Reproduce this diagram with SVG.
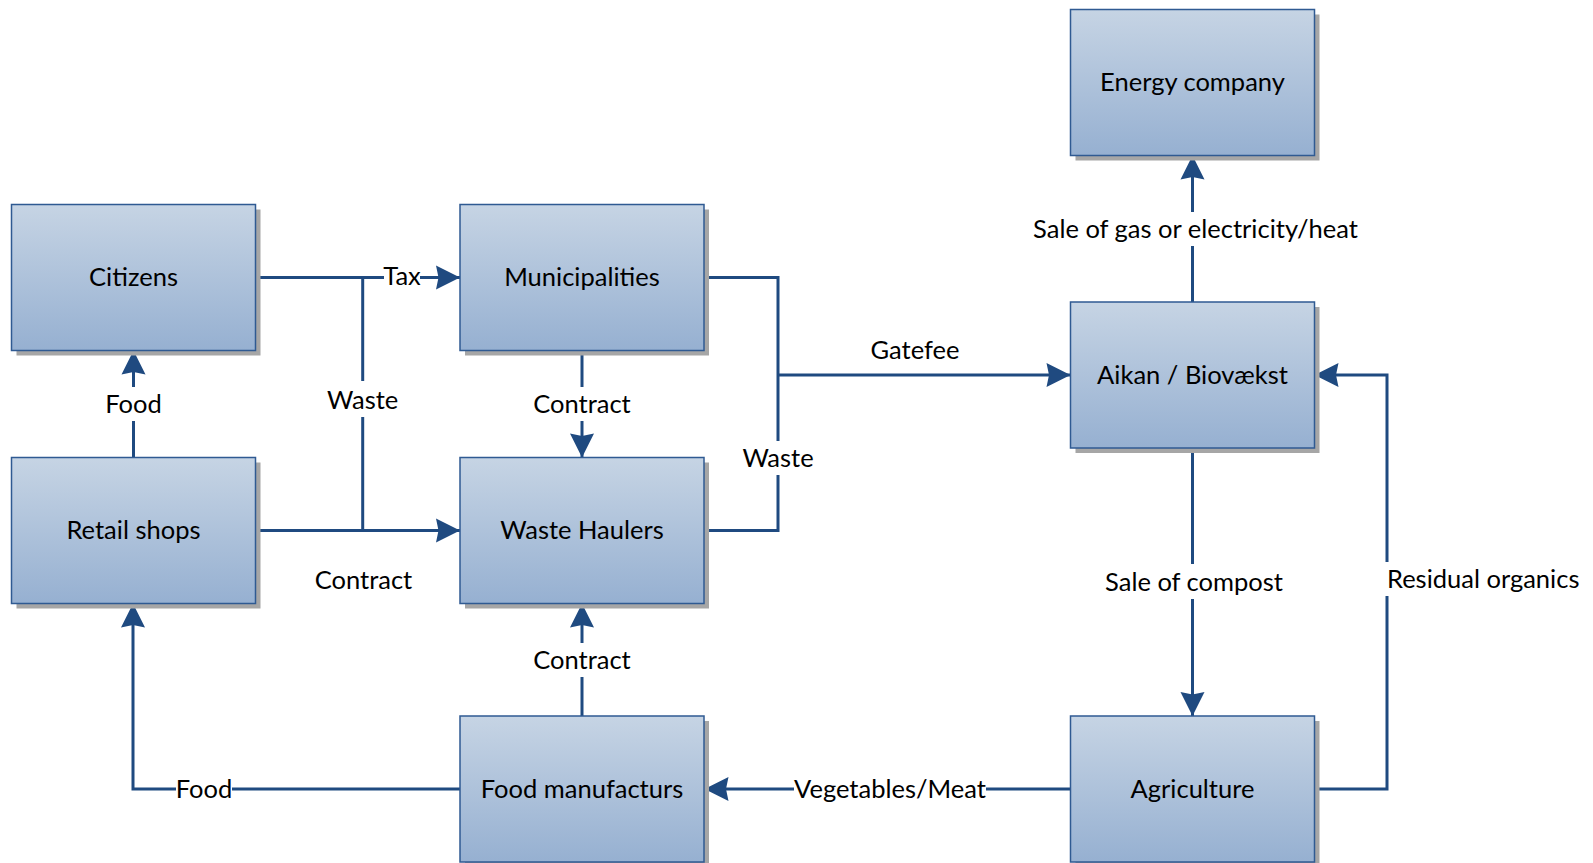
<svg xmlns="http://www.w3.org/2000/svg" width="1593" height="863" viewBox="0 0 1593 863">
<defs>
<linearGradient id="g" x1="0" y1="0" x2="0" y2="1">
<stop offset="0" stop-color="#C6D4E4"/>
<stop offset="1" stop-color="#96B0D1"/>
</linearGradient>
<marker id="arr" markerUnits="userSpaceOnUse" markerWidth="28" markerHeight="28" viewBox="-26 -14 28 28" refX="0" refY="0" orient="auto">
<path d="M0,0 L-24,-12 L-21.5,0 L-24,12 Z" fill="#1F4A80"/>
</marker>
<style>
.box{fill:url(#g);stroke:#2F5A92;stroke-width:1.5}
.sh{fill:#A6A6A6}
.t{font-family:Lato,"Liberation Sans",sans-serif;font-size:25.5px;fill:#000;text-anchor:middle}
.ln{fill:none;stroke:#1F4A80;stroke-width:3}
.bg{fill:#fff}
</style>
</defs>
<rect width="1593" height="863" fill="#fff"/>
<g id="connectors">
<path class="ln" d="M255.5,277.5 H460" marker-end="url(#arr)"/>
<path class="ln" d="M362.7,277.5 V530.5"/>
<path class="ln" d="M255.5,530.5 H460" marker-end="url(#arr)"/>
<path class="ln" d="M133.5,457.5 V350.5" marker-end="url(#arr)"/>
<path class="ln" d="M582,350.5 V457.5" marker-end="url(#arr)"/>
<path class="ln" d="M704.5,277.5 H778 V530.5 H704.5"/>
<path class="ln" d="M778,375 H1070.5" marker-end="url(#arr)"/>
<path class="ln" d="M1192.5,302 V155.5" marker-end="url(#arr)"/>
<path class="ln" d="M1192.5,447.5 V716" marker-end="url(#arr)"/>
<path class="ln" d="M1314.5,789 H1387 V375 H1314.5" marker-end="url(#arr)"/>
<path class="ln" d="M1070.5,789 H704.5" marker-end="url(#arr)"/>
<path class="ln" d="M460,789 H133 V603.5" marker-end="url(#arr)"/>
<path class="ln" d="M582,716 V603.5" marker-end="url(#arr)"/>
<g id="labels">
<rect class="bg" x="384" y="265" width="36" height="26"/>
<text class="t" x="402" y="285">Tax</text>
<rect class="bg" x="328" y="381" width="70" height="36"/>
<text class="t" x="362.7" y="409">Waste</text>
<rect class="bg" x="100" y="387" width="67" height="34"/>
<text class="t" x="133.5" y="413">Food</text>
<rect class="bg" x="530" y="387" width="104" height="34"/>
<text class="t" x="582" y="413">Contract</text>
<text class="t" x="363.5" y="589">Contract</text>
<rect class="bg" x="742" y="441" width="72" height="34"/>
<text class="t" x="778" y="467">Waste</text>
<text class="t" x="915" y="359">Gatefee</text>
<rect class="bg" x="1025" y="212" width="340" height="34"/>
<text class="t" x="1195.5" y="238">Sale of gas or electricity/heat</text>
<rect class="bg" x="1100" y="564" width="190" height="35"/>
<text class="t" x="1194" y="591">Sale of compost</text>
<rect class="bg" x="1385" y="562" width="200" height="34"/>
<text class="t" x="1387" y="588" style="text-anchor:start">Residual organics</text>
<rect class="bg" x="530" y="643" width="104" height="34"/>
<text class="t" x="582" y="669">Contract</text>
<rect class="bg" x="794" y="775" width="192" height="30"/>
<text class="t" x="890" y="798">Vegetables/Meat</text>
<rect class="bg" x="176" y="775" width="56" height="30"/>
<text class="t" x="204" y="798">Food</text>
</g>
</g>
<g id="citizens"><rect class="sh" x="16.5" y="209.5" width="244" height="146"/><rect class="box" x="11.5" y="204.5" width="244" height="146"/><text class="t" x="133.5" y="286">Citizens</text></g>
<g id="municipalities"><rect class="sh" x="465" y="209.5" width="244" height="146"/><rect class="box" x="460" y="204.5" width="244" height="146"/><text class="t" x="582" y="286">Municipalities</text></g>
<g id="retail-shops"><rect class="sh" x="16.5" y="462.5" width="244" height="146"/><rect class="box" x="11.5" y="457.5" width="244" height="146"/><text class="t" x="133.5" y="539">Retail shops</text></g>
<g id="waste-haulers"><rect class="sh" x="465" y="462.5" width="244" height="146"/><rect class="box" x="460" y="457.5" width="244" height="146"/><text class="t" x="582" y="539">Waste Haulers</text></g>
<g id="food-manufacturs"><rect class="sh" x="465" y="721" width="244" height="146"/><rect class="box" x="460" y="716" width="244" height="146"/><text class="t" x="582" y="797.5">Food manufacturs</text></g>
<g id="energy-company"><rect class="sh" x="1075.5" y="14.5" width="244" height="146"/><rect class="box" x="1070.5" y="9.5" width="244" height="146"/><text class="t" x="1192.5" y="91">Energy company</text></g>
<g id="aikan-biovaekst"><rect class="sh" x="1075.5" y="307" width="244" height="146"/><rect class="box" x="1070.5" y="302" width="244" height="146"/><text class="t" x="1192.5" y="383.5">Aikan / Biovækst</text></g>
<g id="agriculture"><rect class="sh" x="1075.5" y="721" width="244" height="146"/><rect class="box" x="1070.5" y="716" width="244" height="146"/><text class="t" x="1192.5" y="797.5">Agriculture</text></g>
</svg>
